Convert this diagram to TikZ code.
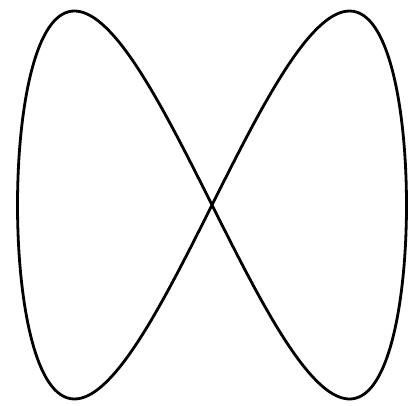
\documentclass[tikz,border=0pt]{standalone}
\usepackage{tikz}

\begin{document}
\begin{tikzpicture}[x=1pt, y=1pt, line join=round]

    % Custom style for the figure-eight curve
    \tikzset{
        eightcurve/.style={black, line width=2.8pt}
    }

    % Fix the frame to the reference size
    \useasboundingbox (0,0) rectangle (420,405);

    % ==========================================
    % Lissajous figure eight: x = sin t, y = sin 2t
    % ==========================================
    \begin{scope}[shift={(212,200)}]
        \draw[eightcurve] plot[domain=0:360, samples=240, smooth]
            ({194.5*sin(\x)}, {194*sin(2*\x)}) -- cycle;
    \end{scope}

\end{tikzpicture}
\end{document}
